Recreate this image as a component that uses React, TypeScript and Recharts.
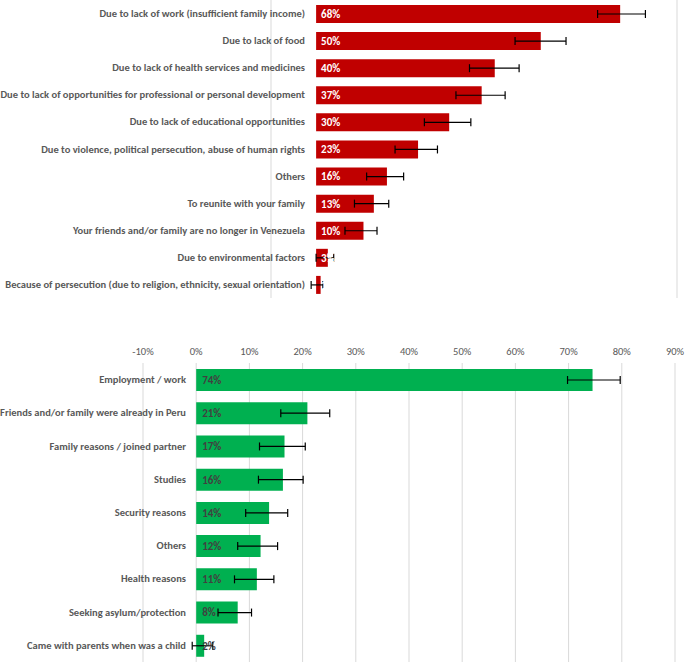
import React from "react";
import {
  BarChart,
  Bar,
  XAxis,
  YAxis,
  CartesianGrid,
  ErrorBar,
  LabelList,
} from "recharts";

const FONT = "Carlito, Lato, 'Open Sans', sans-serif";

// top panel: reasons for leaving Venezuela
const leaveReasons = [
  "Due to lack of work (insufficient family income)",
  "Due to lack of food",
  "Due to lack of health services and medicines",
  "Due to lack of opportunities for professional or personal development",
  "Due to lack of educational opportunities",
  "Due to violence, political persecution, abuse of human rights",
  "Others",
  "To reunite with your family",
  "Your friends and/or family are no longer in Venezuela",
  "Due to environmental factors",
  "Because of persecution (due to religion, ethnicity, sexual orientation)",
];
const leaveValues = [67.4, 49.8, 39.6, 36.7, 29.5, 22.6, 15.7, 12.8, 10.5, 2.6, 1.0];
const leaveLabels = ["68%", "50%", "40%", "37%", "30%", "23%", "16%", "13%", "10%", "3%", "1%"];
const leaveErrLow = [5.0, 5.7, 5.6, 5.7, 5.5, 5.1, 4.5, 4.3, 4.1, 2.6, 2.1];
const leaveErrHigh = [5.6, 5.6, 5.4, 5.2, 4.8, 4.3, 3.7, 3.3, 3.0, 1.3, 0.5];
const leaveTicks = [-10, 0, 10, 20, 30, 40, 50, 60, 70, 80];

// bottom panel: reasons for choosing Peru
const peruReasons = [
  "Employment / work",
  "Friends and/or family were already in Peru",
  "Family reasons / joined partner",
  "Studies",
  "Security reasons",
  "Others",
  "Health reasons",
  "Seeking asylum/protection",
  "Came with parents when was a child",
];
const peruValues = [74.5, 20.9, 16.6, 16.3, 13.7, 12.1, 11.4, 7.8, 1.5];
const peruLabels = ["74%", "21%", "17%", "16%", "14%", "12%", "11%", "8%", "2%"];
const peruErrLow = [4.7, 5.0, 4.7, 4.6, 4.4, 4.3, 4.2, 3.7, 2.25];
const peruErrHigh = [5.2, 4.2, 3.9, 3.8, 3.5, 3.2, 3.2, 2.6, 1.6];
const peruTicks = [-10, 0, 10, 20, 30, 40, 50, 60, 70, 80, 90];

const leaveData = leaveReasons.map((name, i) => ({
  name,
  value: leaveValues[i],
  label: leaveLabels[i],
  err: [leaveErrLow[i], leaveErrHigh[i]],
}));

const peruData = peruReasons.map((name, i) => ({
  name,
  value: peruValues[i],
  label: peruLabels[i],
  err: [peruErrLow[i], peruErrHigh[i]],
}));

function CategoryTick(props: any) {
  const { x, y, payload, shift } = props;
  return (
    <text
      x={x + shift}
      y={y}
      textAnchor="end"
      dominantBaseline="central"
      fontSize={10.5}
      fontWeight={700}
      fontFamily={FONT}
      fill="#595959"
    >
      {payload.value}
    </text>
  );
}

export default function App() {
  return (
    <div
      style={{
        position: "absolute",
        left: 0,
        top: 0,
        width: 685,
        height: 664,
        background: "#fff",
        fontFamily: FONT,
      }}
    >
      <div style={{ position: "absolute", left: 0, top: 0 }}>
        <BarChart
          width={685}
          height={298}
          data={leaveData}
          layout="vertical"
          margin={{ top: 0, right: 8, bottom: 0, left: 0 }}
          barSize={18}
        >
          <CartesianGrid horizontal={false} stroke="#d9d9d9" />
          <XAxis
            type="number"
            domain={[-10, 80]}
            ticks={leaveTicks}
            tick={false}
            axisLine={false}
            tickLine={false}
            height={0}
          />
          <YAxis
            type="category"
            dataKey="name"
            width={271}
            axisLine={false}
            tickLine={false}
            tickSize={0}
            tickMargin={0}
            interval={0}
            tick={<CategoryTick shift={34} />}
          />
          <Bar dataKey="value" fill="#C00000" isAnimationActive={false}>
            <LabelList
              dataKey="label"
              position="insideLeft"
              offset={5}
              fill="#fff"
              fontSize={11}
              fontWeight={700}
              fontFamily={FONT}
            />
            <ErrorBar
              dataKey="err"
              direction="x"
              width={4}
              stroke="#000"
              strokeWidth={1.2}
              isAnimationActive={false}
            />
          </Bar>
        </BarChart>
      </div>

      <div style={{ position: "absolute", left: 0, top: 336 }}>
        <BarChart
          width={685}
          height={328}
          data={peruData}
          layout="vertical"
          margin={{ top: 0, right: 10, bottom: 2, left: 0 }}
          barSize={22}
        >
          <CartesianGrid horizontal={false} stroke="#d9d9d9" />
          <XAxis
            type="number"
            orientation="top"
            domain={[-10, 90]}
            ticks={peruTicks}
            interval={0}
            height={27}
            axisLine={false}
            tickLine={false}
            tickFormatter={(v: number) => `${v}%`}
            tick={{ fontSize: 10.5, fill: "#595959", fontFamily: FONT }}
          />
          <YAxis
            type="category"
            dataKey="name"
            width={143}
            axisLine={false}
            tickLine={false}
            tickSize={0}
            tickMargin={0}
            interval={0}
            tick={<CategoryTick shift={43} />}
          />
          <Bar dataKey="value" fill="#00B050" isAnimationActive={false}>
            <LabelList
              dataKey="label"
              position="insideLeft"
              offset={6}
              fill="#404040"
              fontSize={11}
              fontWeight={700}
              fontFamily={FONT}
            />
            <ErrorBar
              dataKey="err"
              direction="x"
              width={4}
              stroke="#000"
              strokeWidth={1.2}
              isAnimationActive={false}
            />
          </Bar>
        </BarChart>
      </div>
    </div>
  );
}
